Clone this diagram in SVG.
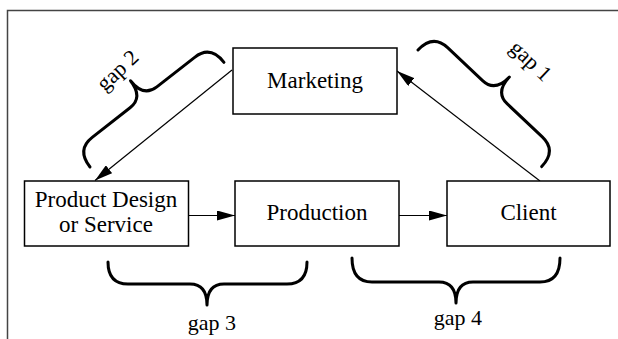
<svg xmlns="http://www.w3.org/2000/svg" width="618" height="339" viewBox="0 0 618 339">
<defs>
<style>
.box{fill:#fff;stroke:#000;stroke-width:1.5}
.lbl{font-family:"Liberation Serif","Times New Roman",serif;font-size:23px;fill:#000;text-anchor:middle}
.gap{font-family:"Liberation Serif","Times New Roman",serif;font-size:22px;fill:#000;text-anchor:middle}
.brace{fill:none;stroke:#000;stroke-width:3;stroke-linecap:round;stroke-linejoin:round}
.conn{fill:none;stroke:#000;stroke-width:1.2}
</style>
<marker id="ah" markerUnits="userSpaceOnUse" markerWidth="18" markerHeight="10" refX="18" refY="5" orient="auto">
<path d="M0,0 L18,5 L0,10 z" fill="#000"/>
</marker>
</defs>
<rect width="618" height="339" fill="#fff"/>
<path d="M7.5,339 V10.5 H618" fill="none" stroke="#444" stroke-width="1.5"/>
<g id="connectors">
<line class="conn" x1="188" y1="215.5" x2="235" y2="215.5" marker-end="url(#ah)"/>
<line class="conn" x1="399" y1="215.5" x2="447" y2="215.5" marker-end="url(#ah)"/>
<line class="conn" x1="232" y1="70" x2="95" y2="180.5" marker-end="url(#ah)"/>
<line class="conn" x1="540" y1="181" x2="397" y2="71" marker-end="url(#ah)"/>
</g>
<g id="marketing">
<rect class="box" x="233" y="48" width="164" height="66"/>
<text class="lbl" x="315" y="88">Marketing</text>
</g>
<g id="product-design">
<rect class="box" x="24.5" y="181" width="164" height="65"/>
<text class="lbl" x="106" y="207">Product Design</text>
<text class="lbl" x="106" y="232">or Service</text>
</g>
<g id="production">
<rect class="box" x="235" y="181" width="164" height="65"/>
<text class="lbl" x="317" y="220">Production</text>
</g>
<g id="client">
<rect class="box" x="447" y="181" width="163" height="65"/>
<text class="lbl" x="528.5" y="220">Client</text>
</g>
<g id="gap1">
<path class="brace" transform="translate(418,50) rotate(43.3)" d="M0,0 Q0,-22 20,-22 L68,-22 Q85,-22 85,-43 Q85,-22 102,-22 L150,-22 Q170,-22 170,0"/>
<text class="gap" transform="translate(526,66) rotate(43.3)">gap 1</text>
</g>
<g id="gap2">
<path class="brace" transform="translate(90,167) rotate(-38)" d="M0,0 Q0,-22 20,-22 L68,-22 Q85,-22 85,-43 Q85,-22 102,-22 L150,-22 Q170,-22 170,0"/>
<text class="gap" transform="translate(122.5,75.5) rotate(-43)">gap 2</text>
</g>
<g id="gap3">
<path class="brace" d="M108,262 Q108,284 128,284 L190,284 Q207,284 207,305 Q207,284 224,284 L287,284 Q307,284 307,262"/>
<text class="gap" x="212" y="330">gap 3</text>
</g>
<g id="gap4">
<path class="brace" d="M352,258 Q352,282 372,282 L439,282 Q456,282 456,303 Q456,282 473,282 L540,282 Q560,282 560,258"/>
<text class="gap" x="458" y="325">gap 4</text>
</g>
</svg>
